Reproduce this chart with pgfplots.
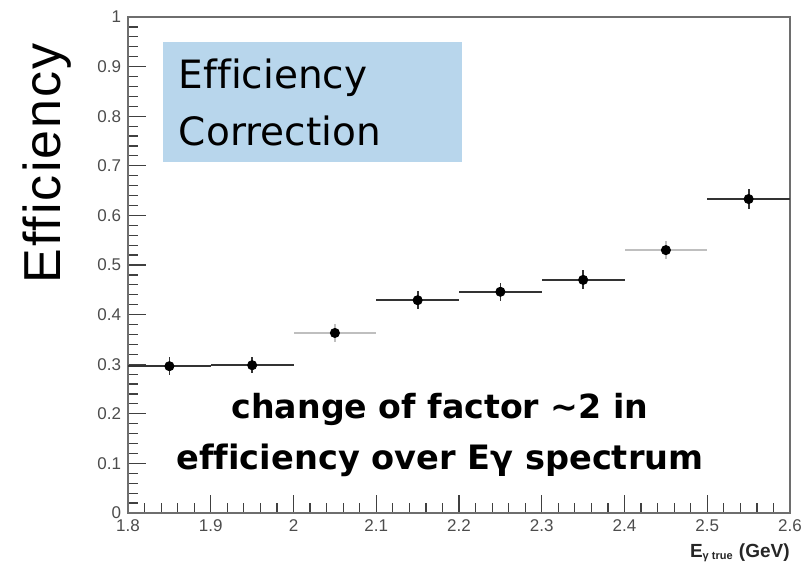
\documentclass[border=0pt]{standalone}
\usepackage{fontspec}
\setmainfont{Liberation Sans}
\newfontfamily\titlefont[Ligatures=NoCommon, LetterSpace=4]{Liberation Sans}
\newfontfamily\boxfont[Ligatures=NoCommon]{DejaVu Sans}
\usepackage{pgfplots}
\pgfplotsset{compat=1.18}
\definecolor{boxblue}{RGB}{184,214,236}
\definecolor{axisgray}{RGB}{110,110,110}

\begin{document}
\begin{tikzpicture}
\begin{axis}[
  scale only axis,
  width=331pt, height=248pt,
  xmin=1.8, xmax=2.6, ymin=0, ymax=1,
  xtick={1.8,1.9,2.0,2.1,2.2,2.3,2.4,2.5,2.6},
  xticklabels={1.8,1.9,2,2.1,2.2,2.3,2.4,2.5,2.6},
  ytick={0,0.1,...,1.0},
  yticklabels={0,0.1,0.2,0.3,0.4,0.5,0.6,0.7,0.8,0.9,1},
  minor x tick num=4, minor y tick num=4,
  xtick pos=bottom, ytick pos=left,
  tick align=inside,
  major tick length=9pt, minor tick length=5pt,
  tick style={black!75, line width=0.6pt},
  axis line style={axisgray, line width=0.6pt},
  tick label style={font=\fontsize{8.5}{10}\selectfont, text=black!70},
  /pgf/number format/assume math mode=true,
  clip=false,
]
% annotation box
\fill[boxblue] (axis cs:1.842,0.708) rectangle (axis cs:2.204,0.950);
\node[anchor=west, font=\boxfont\fontsize{19.5}{22}\selectfont] at (axis cs:1.853,0.878) {Efficiency};
\node[anchor=west, font=\boxfont\fontsize{19.5}{22}\selectfont] at (axis cs:1.853,0.770) {Correction};
% data: dark bins
\addplot[only marks, mark=*, mark size=2.3pt, black,
  error bars/.cd, x dir=both, x explicit, y dir=both, y explicit,
  error mark=none, error bar style={black!80, line width=0.9pt}]
  coordinates {
  (1.85,0.296) +- (0.05,0.018)
  (1.95,0.298) +- (0.05,0.016)
  (2.15,0.429) +- (0.05,0.018)
  (2.25,0.446) +- (0.05,0.018)
  (2.35,0.470) +- (0.05,0.019)
  (2.55,0.633) +- (0.05,0.021)
};
% data: light bins
\addplot[only marks, mark=*, mark size=2.3pt, black,
  error bars/.cd, x dir=both, x explicit, y dir=both, y explicit,
  error mark=none, error bar style={black!25, line width=0.9pt}]
  coordinates {
  (2.05,0.363) +- (0.05,0.019)
  (2.45,0.530) +- (0.05,0.018)
};
% bottom caption
\node[font=\boxfont\bfseries\fontsize{16.6}{19}\selectfont] at (axis cs:2.177,0.208) {change of factor \char"7E 2 in};
\node[font=\boxfont\bfseries\fontsize{16.8}{19}\selectfont] at (axis cs:2.177,0.107) {efficiency over Eγ spectrum};
% axis titles
\node[anchor=north east, font=\fontsize{9.5}{11}\selectfont\bfseries, text=black!85, inner sep=0pt]
  at (axis description cs:1,-0.062) {E\textsubscript{\fontsize{5.5}{6}\selectfont γ true} (GeV)};
\node[rotate=90, anchor=east, font=\titlefont\fontsize{26}{30}\selectfont, inner sep=0pt]
  at (axis description cs:-0.122,0.948) {Efficiency};
% page extent
\path (axis description cs:-0.1934,-0.1089) rectangle (axis description cs:1.0332,1.0343);
\end{axis}
\end{tikzpicture}
\end{document}
